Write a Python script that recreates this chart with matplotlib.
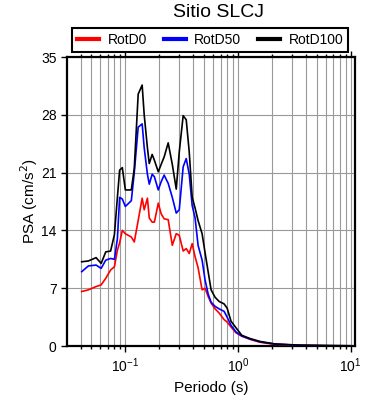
import numpy as np
import matplotlib
matplotlib.use("Agg")
import matplotlib.pyplot as plt

plt.rcParams['font.family'] = ['Liberation Sans', 'DejaVu Sans']

# periodos (s) y espectros PSA (cm/s2)
periodo = [0.041, 0.047, 0.055, 0.061, 0.067, 0.074, 0.080, 0.085, 0.089, 0.094,
           0.100, 0.113, 0.120, 0.130, 0.141, 0.147, 0.157, 0.163, 0.173, 0.181,
           0.196, 0.208, 0.221, 0.240, 0.261, 0.283, 0.301, 0.326, 0.347, 0.369,
           0.392, 0.416, 0.442, 0.480, 0.510, 0.543, 0.577, 0.626, 0.679, 0.752,
           0.800, 0.867, 0.96, 1.08, 1.28, 1.57, 2.13, 3.54, 6.52, 10.0]
rotd0 = [6.6, 6.8, 7.2, 7.4, 8.2, 9.2, 9.6, 11.6, 12.5, 14.0,
         13.6, 13.2, 12.6, 15.2, 17.9, 16.5, 17.9, 15.5, 15.0, 15.0,
         17.3, 16.0, 15.4, 15.3, 12.2, 13.6, 13.4, 11.5, 11.8, 11.2,
         12.4, 10.8, 9.5, 6.8, 7.0, 6.0, 5.2, 4.5, 4.0, 3.2,
         2.9, 2.3, 1.6, 1.2, 0.8, 0.45, 0.2, 0.08, 0.03, 0.02]
rotd50 = [9.0, 9.7, 9.8, 9.4, 10.4, 10.6, 10.5, 13.0, 18.0, 17.8,
          16.9, 17.6, 21.0, 26.5, 26.9, 24.0, 20.8, 19.6, 20.8, 20.5,
          18.9, 19.9, 20.7, 19.7, 18.0, 16.1, 16.5, 21.7, 22.7, 20.8,
          17.0, 15.5, 12.2, 10.4, 8.0, 6.3, 5.3, 4.8, 4.5, 4.2,
          3.5, 2.5, 1.7, 1.2, 0.85, 0.5, 0.22, 0.09, 0.04, 0.02]
rotd100 = [10.2, 10.3, 10.7, 10.0, 11.4, 11.5, 13.5, 18.0, 21.3, 21.6,
           18.9, 18.9, 21.5, 30.5, 31.6, 28.0, 24.0, 22.1, 23.2, 22.5,
           21.1, 22.0, 22.9, 24.6, 22.0, 19.0, 23.5, 27.9, 27.4, 23.5,
           18.0, 16.7, 15.2, 13.6, 11.3, 9.0, 6.8, 5.9, 5.4, 5.1,
           4.6, 3.0, 2.2, 1.3, 0.9, 0.55, 0.25, 0.1, 0.05, 0.03]
yticks = [0, 7, 14, 21, 28, 35]

fig = plt.figure(figsize=(3.9, 4.0), dpi=100)
ax = fig.add_axes([0.172, 0.135, 0.738, 0.7225])

ax.plot(periodo, rotd0, color='red', lw=1.2, label='RotD0', zorder=3)
ax.plot(periodo, rotd50, color='blue', lw=1.2, label='RotD50', zorder=4)
ax.plot(periodo, rotd100, color='black', lw=1.2, label='RotD100', zorder=5)

ax.set_xscale('log')
ax.set_xlim(0.0304, 10.9)
ax.set_ylim(0, 35)
ax.set_yticks(yticks)
ax.grid(True, which='both', axis='x', color='#999999', lw=0.8)
ax.grid(True, which='major', axis='y', color='#999999', lw=0.8)
ax.set_axisbelow(True)

for s in ax.spines.values():
    s.set_linewidth(1.6)
ax.tick_params(which='major', direction='out', length=4, width=1, labelsize=10,
               top=True, right=False)
ax.tick_params(which='minor', direction='out', length=2.5, width=1, top=True)

ax.set_xlabel('Periodo (s)', fontsize=11, labelpad=4)
ax.set_ylabel('PSA (cm/s$^2$)', fontsize=11, labelpad=1)

fig.text(0.56, 0.968, 'Sitio SLCJ', ha='center', va='center', fontsize=14)
leg = fig.legend(loc='center', bbox_to_anchor=(0.539, 0.9), ncol=3,
                 fontsize=10, frameon=True, fancybox=False, framealpha=1,
                 edgecolor='black', handlelength=1.6, columnspacing=1.2,
                 borderpad=0.35, handletextpad=0.6)
leg.get_frame().set_linewidth(1.5)
for h in leg.get_lines():
    h.set_linewidth(3)

fig.savefig('out.png', dpi=100)
